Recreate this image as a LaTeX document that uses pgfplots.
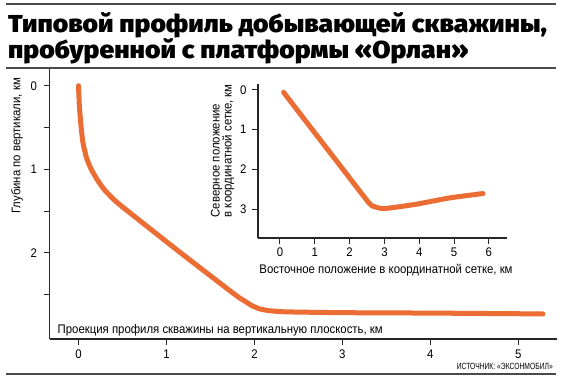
\documentclass[border=0pt]{standalone}
\usepackage{fontspec}
\setmainfont{Liberation Sans}[FakeStretch=0.91]
\newfontfamily\titlefont{Fira Sans Black}[FakeStretch=1.08]
\newfontfamily\srcfont{Liberation Sans}[FakeStretch=0.75]
\usepackage{pgfplots}
\pgfplotsset{compat=1.18}
\definecolor{wellorange}{HTML}{EB6D34}
\definecolor{rulegray}{HTML}{4A4A4A}
\newcommand\lblfont{\fontsize{12.5}{12}\selectfont}
\begin{document}
\begin{tikzpicture}
\useasboundingbox (0pt,0pt) rectangle (561pt,380pt);
\fill[white] (0pt,0pt) rectangle (561pt,380pt);
\draw[rulegray, line width=1.5pt] (6pt,376pt) -- (556pt,376pt);
\draw[rulegray, line width=1.5pt] (6pt,312pt) -- (556pt,312pt);
\draw[rulegray, line width=1.5pt] (6pt,6pt) -- (556pt,6pt);
\node[anchor=base west, inner sep=0pt, font=\titlefont\fontsize{24.5}{26}\selectfont] at (8pt,347pt) {Типовой профиль добывающей скважины,};
\node[anchor=base west, inner sep=0pt, font=\titlefont\fontsize{24.5}{26}\selectfont] at (8pt,321pt) {пробуренной с платформы «Орлан»};

\begin{axis}[
  at={(49.5pt,41pt)}, anchor=south west,
  scale only axis, width=507.5pt, height=270pt,
  xmin=-0.33, xmax=5.44, ymin=-0.2, ymax=3.03, y dir=reverse,
  axis x line*=bottom, axis y line*=left,
  axis line style={line width=1.3pt, black!85},
  xtick={0,1,2,3,4,5}, ytick={0,1,2}, minor ytick={0.5,1.5,2.5},
  tick align=outside, major tick length=6pt, minor tick length=6pt,
  tick style={black!85, line width=1pt},
  ticklabel style={font=\lblfont},
  yticklabel style={xshift=-3pt},
  xticklabel style={yshift=-1.5pt},
  /pgf/number format/assume math mode=true,
]
\addplot[wellorange, line width=5pt, line cap=round, smooth, tension=0.3] coordinates {
(0.00,0.00) (0.01,0.25) (0.03,0.50) (0.05,0.68) (0.09,0.86) (0.14,0.99)
(0.21,1.12) (0.29,1.24) (0.39,1.35) (0.50,1.45) (1.15,1.99) (1.78,2.50)
(1.88,2.57) (1.97,2.63) (2.06,2.67) (2.16,2.69) (2.35,2.705) (3.00,2.715)
(4.00,2.72) (5.28,2.73)
};
\end{axis}

\begin{axis}[
  at={(258pt,142pt)}, anchor=south west,
  scale only axis, width=249pt, height=154pt,
  xmin=-0.63, xmax=6.52, ymin=-0.15, ymax=3.73, y dir=reverse,
  axis x line*=bottom, axis y line*=left,
  axis line style={line width=1.3pt, black!85},
  xtick={0,1,2,3,4,5,6}, ytick={0,1,2,3},
  tick align=outside, major tick length=6pt,
  tick style={black!85, line width=1pt},
  ticklabel style={font=\lblfont},
  yticklabel style={xshift=-2pt},
  /pgf/number format/assume math mode=true,
]
\addplot[wellorange, line width=5pt, line cap=round, smooth, tension=0.3] coordinates {
(0.105,0.06) (0.93,1.00) (1.81,2.00) (2.57,2.86) (2.75,2.95) (3.00,2.99)
(3.91,2.88) (4.87,2.72) (5.83,2.61)
};
\end{axis}

\node[anchor=west, inner sep=0pt, font=\lblfont] at (57.5pt,49.4pt) {Проекция профиля скважины на вертикальную плоскость, км};
\node[rotate=90, inner sep=0pt, font=\lblfont] at (17pt,234pt) {Глубина по вертикали, км};
\node[inner sep=0pt, font=\lblfont] at (386pt,110pt) {Восточное положение в координатной сетке, км};
\node[rotate=90, anchor=west, align=left, inner sep=0pt, font=\lblfont] at (222.5pt,162.5pt) {Северное положение\\в координатной сетке, км};
\node[anchor=base east, inner sep=0pt, font=\srcfont\fontsize{9}{10}\selectfont] at (553pt,10.5pt) {ИСТОЧНИК: «ЭКСОНМОБИЛ»};
\end{tikzpicture}
\end{document}
